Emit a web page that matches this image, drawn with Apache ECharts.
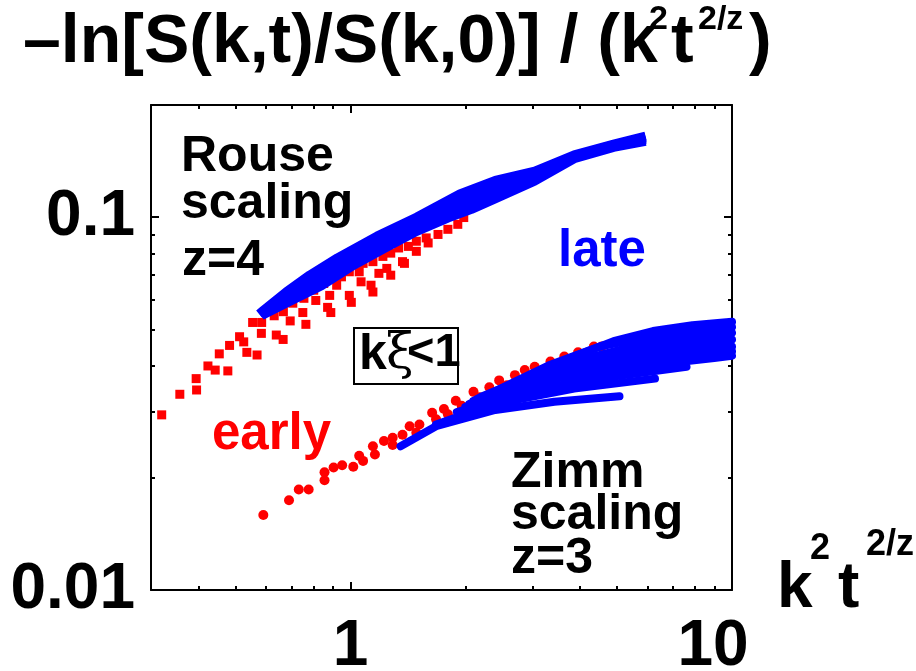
<!DOCTYPE html>
<html>
<head>
<meta charset="UTF-8">
<script src="https://cdn.jsdelivr.net/npm/echarts@6/dist/echarts.min.js"></script>
<style>
html,body{margin:0;padding:0;background:#fff;}
#chart{width:916px;height:671px;}
</style>
</head>
<body>
<div id="chart"></div>
<script>
// axis ranges and ticks
var xMin = 0.3, xMax = 10, yMin = 0.01, yMax = 0.2;
var xMinorTicks = [0.4, 0.5, 0.6, 0.7, 0.8, 0.9, 2, 3, 4, 5, 6, 7, 8, 9];
var xLabels = [1, 10];
var yMinorTicks = [0.02, 0.03, 0.04, 0.05, 0.06, 0.07, 0.08, 0.09, 0.2];
var yLabels = [0.01, 0.1];

// early, Rouse scaling (red squares)
var redSquares = [[0.320,0.0295],[0.357,0.0335],[0.394,0.0369],[0.395,0.0344],[0.423,0.0399],[0.442,0.0389],[0.453,0.0430],[0.477,0.0387],[0.482,0.0453],[0.512,0.0478],[0.535,0.0434],[0.525,0.0463],[0.569,0.0427],[0.554,0.0522],[0.584,0.0488],[0.585,0.0522],[0.631,0.0544],[0.639,0.0483],[0.666,0.0470],[0.667,0.0558],[0.706,0.0588],[0.695,0.0527],[0.750,0.0555],[0.764,0.0516],[0.755,0.0606],[0.801,0.0637],[0.811,0.0598],[0.871,0.0573],[0.888,0.0555],[0.851,0.0664],[0.882,0.0617],[0.920,0.0657],[0.947,0.0692],[0.993,0.0617],[1.005,0.0591],[0.993,0.0714],[1.054,0.0714],[1.066,0.0671],[1.132,0.0657],[1.145,0.0630],[1.079,0.0752],[1.145,0.0760],[1.187,0.0707],[1.245,0.0729],[1.275,0.0699],[1.216,0.0785],[1.275,0.0801],[1.369,0.0760],[1.385,0.0752],[1.337,0.0827],[1.418,0.0835],[1.488,0.0810],[1.488,0.0862],[1.598,0.0853],[1.579,0.0880],[1.696,0.0899],[1.800,0.0928],[1.911,0.0957],[1.981,0.0998]];

// late, Rouse scaling (blue squares, dense band, read as curves)
var blueSqTop = [[0.588,0.0560],[0.678,0.0630],[0.782,0.0700],[0.924,0.0778],[1.173,0.0890],[1.488,0.1000],[1.933,0.1155],[2.395,0.1255],[3.040,0.1330],[3.857,0.1470],[4.894,0.1570],[5.780,0.1640]];
var blueSqUpper = [[0.592,0.0558],[0.684,0.0622],[0.796,0.0690],[0.947,0.0769],[1.186,0.0875],[1.489,0.0980],[1.890,0.1112],[2.400,0.1222],[3.040,0.1310],[3.860,0.1460],[4.890,0.1563],[5.780,0.1630]];
var blueSqMid = [[0.595,0.0555],[0.690,0.0615],[0.810,0.0680],[0.970,0.0760],[1.200,0.0860],[1.490,0.0960],[1.850,0.1070],[2.400,0.1190],[3.040,0.1290],[3.860,0.1450],[4.890,0.1555],[5.780,0.1620]];
var blueSqLower = [[0.598,0.0553],[0.692,0.0605],[0.825,0.0667],[0.994,0.0751],[1.215,0.0842],[1.489,0.0937],[1.825,0.1032],[2.240,0.1120],[2.400,0.1155],[3.040,0.1270],[3.860,0.1443],[4.890,0.1548],[5.780,0.1605]];
var blueSqLow = [[0.600,0.0552],[0.695,0.0595],[0.840,0.0655],[1.017,0.0742],[1.230,0.0825],[1.488,0.0915],[1.800,0.0995],[2.077,0.1050],[2.395,0.1120],[3.040,0.1250],[3.857,0.1435],[4.894,0.1540],[5.780,0.1590]];

// early, Zimm scaling (red circles)
var redCircles = [[0.591,0.0159],[0.690,0.0174],[0.732,0.0186],[0.777,0.0186],[0.855,0.0197],[0.855,0.0207],[0.903,0.0213],[0.951,0.0216],[1.017,0.0214],[1.054,0.0229],[1.079,0.0222],[1.145,0.0243],[1.159,0.0231],[1.224,0.0251],[1.290,0.0256],[1.290,0.0245],[1.369,0.0261],[1.429,0.0275],[1.488,0.0264],[1.516,0.0278],[1.637,0.0299],[1.676,0.0287],[1.758,0.0306],[1.800,0.0296],[1.888,0.0322],[1.956,0.0312],[2.101,0.0340],[2.178,0.0329],[2.312,0.0350],[2.453,0.0365],[2.572,0.0354],[2.698,0.0377],[2.863,0.0389],[3.040,0.0397],[3.343,0.0410],[3.634,0.0423],[3.950,0.0434],[4.344,0.0450],[4.555,0.0450]];

// late, Zimm scaling (blue circles, fan of curves)
var blueCi1 = [[1.353,0.0243],[1.676,0.0275],[2.395,0.0304],[3.423,0.0320],[5.071,0.0331]];
var blueCi2 = [[1.676,0.0278],[2.395,0.0316],[3.857,0.0347],[6.283,0.0369]];
var blueCi3 = [[1.900,0.0300],[3.040,0.0345],[5.000,0.0375],[7.601,0.0397]];
var blueCi4 = [[2.000,0.0310],[3.500,0.0370],[6.000,0.0400],[8.980,0.0419],[10,0.0425]];
var blueCi5 = [[2.050,0.0316],[3.500,0.0378],[6.000,0.0415],[10,0.0437]];
var blueCi6 = [[2.100,0.0322],[3.500,0.0385],[6.000,0.0430],[10,0.0450]];
var blueCi7 = [[2.150,0.0326],[3.500,0.0392],[6.000,0.0445],[10,0.0470]];
var blueCi8 = [[2.200,0.0330],[3.500,0.0400],[6.000,0.0460],[10,0.0490]];
var blueCi9 = [[2.300,0.0335],[3.300,0.0400],[4.500,0.0450],[6.000,0.0478],[10,0.0508]];
var blueCi10 = [[2.395,0.0340],[3.040,0.0381],[3.857,0.0423],[4.894,0.0465],[6.209,0.0495],[7.877,0.0513],[10,0.0524]];

var RED = '#ff0000', BLUE = '#0000ff';
var FONT = 'Liberation Sans, Arial, sans-serif';

var myChart = echarts.init(document.getElementById('chart'));

function tickAxis(pos, type, ticks, len, withLine, labels) {
	var ax = {
		type: 'log', logBase: 10, position: pos,
		min: type == 'x' ? xMin : yMin,
		max: type == 'x' ? xMax : yMax,
		splitLine: {show: false},
		axisLine: {show: withLine, lineStyle: {color: '#000', width: 2}},
		axisTick: {show: true, inside: true, length: len, customValues: ticks, lineStyle: {color: '#000', width: 2}},
		axisLabel: {show: false}
	};
	if (labels) {
		ax.axisLabel = {
			show: true, customValues: labels, color: '#000',
			fontFamily: FONT, fontWeight: 'bold', fontSize: 64,
			margin: type == 'x' ? 25 : 16,
			formatter: function (v) {
				var p = Math.round(Math.log10(v));
				if (type == 'x') return p >= 1 ? '{r|10}' : '{n|1}';
				return p <= -2 ? '0.01' : '0.1';
			},
			rich: {
				r: {fontFamily: FONT, fontWeight: 'bold', fontSize: 64, color: '#000', padding: [0, 38, 0, 0]},
				n: {fontFamily: FONT, fontWeight: 'bold', fontSize: 64, color: '#000'}
			}
		};
	}
	return ax;
}

function bandLine(data, w, cap) {
	return {
		type: 'line', data: data, xAxisIndex: 0, yAxisIndex: 0,
		symbol: 'none', smooth: false, silent: true,
		lineStyle: {color: BLUE, width: w, cap: cap, join: 'round', opacity: 1}
	};
}

function label(text, left, top, size, color, extra) {
	var st = {text: text, fill: color, fontFamily: FONT, fontWeight: 'bold', fontSize: size};
	if (extra) for (var k in extra) st[k] = extra[k];
	return {type: 'text', left: left, top: top, z: 100, style: st};
}

var option = {
	animation: false,
	backgroundColor: '#fff',
	grid: {left: 151, right: 184, top: 105, bottom: 81, containLabel: false, outerBoundsMode: 'none'},
	xAxis: [
		tickAxis('bottom', 'x', [1], 8, true, xLabels),
		tickAxis('bottom', 'x', xMinorTicks, 4, false),
		tickAxis('top', 'x', [1], 8, true),
		tickAxis('top', 'x', xMinorTicks, 4, false)
	],
	yAxis: [
		tickAxis('left', 'y', [0.1], 8, true, yLabels),
		tickAxis('left', 'y', yMinorTicks, 4, false),
		tickAxis('right', 'y', [0.1], 8, true),
		tickAxis('right', 'y', yMinorTicks, 4, false)
	],
	series: [
		bandLine(blueSqTop, 9, 'square'),
		bandLine(blueSqUpper, 9, 'square'),
		bandLine(blueSqMid, 9, 'square'),
		bandLine(blueSqLower, 9, 'square'),
		bandLine(blueSqLow, 9, 'square'),
		{type: 'scatter', data: redSquares, symbol: 'rect', symbolSize: 9, itemStyle: {color: RED, opacity: 1}, silent: true},
		bandLine(blueCi1, 8, 'round'),
		bandLine(blueCi2, 8, 'round'),
		bandLine(blueCi3, 8, 'round'),
		bandLine(blueCi4, 8, 'round'),
		bandLine(blueCi5, 8, 'round'),
		bandLine(blueCi6, 8, 'round'),
		bandLine(blueCi7, 8, 'round'),
		bandLine(blueCi8, 8, 'round'),
		bandLine(blueCi9, 8, 'round'),
		bandLine(blueCi10, 8, 'round'),
		{type: 'scatter', data: redCircles, symbol: 'circle', symbolSize: 10, itemStyle: {color: RED, opacity: 1}, silent: true}
	],
	graphic: [
		// title
		label('\u2013ln[S(k,t)/S(k,0)] / (k', 23, 9, 68, '#000'),
		label('2', 649, 3, 34, '#000'),
		label('t', 671, 9, 68, '#000'),
		label('2/z', 698, 3, 34, '#000'),
		label(')', 749, 9, 68, '#000'),
		// x axis name
		label('k', 777, 557, 64, '#000'),
		label('2', 810, 531, 36, '#000'),
		label('t', 838, 557, 64, '#000'),
		label('2/z', 866, 527, 36, '#000'),
		// annotations
		label('Rouse', 181, 132, 50, '#000'),
		label('scaling', 181, 179, 50, '#000'),
		label('z=4', 182, 236, 50, '#000'),
		label('late', 558, 226, 51, BLUE),
		label('early', 212, 409, 51, RED),
		label('Zimm', 511, 448, 50, '#000'),
		label('scaling', 511, 490, 50, '#000'),
		label('z=3', 511, 534, 50, '#000'),
		{type: 'rect', left: 353, top: 327, z: 100, shape: {width: 104, height: 56}, style: {fill: '#fff', stroke: '#000', lineWidth: 2}},
		label('k', 359, 330, 50, '#000'),
		label('\u03be', 386, 330, 50, '#000', {fontFamily: 'DejaVu Serif, serif', fontWeight: 'normal'}),
		label('<1', 407, 330, 47, '#000')
	]
};
myChart.setOption(option);
</script>
</body>
</html>
